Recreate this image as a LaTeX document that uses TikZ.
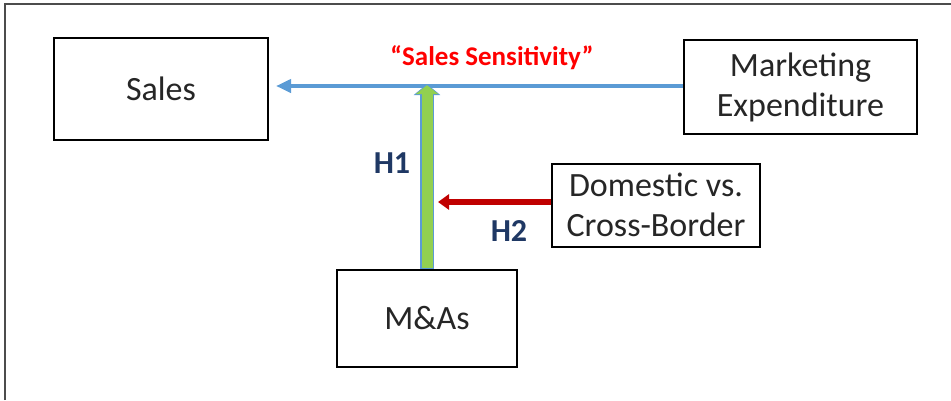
\documentclass[tikz,border=0pt]{standalone}
\usepackage{fontspec}
\setmainfont{Carlito}
\usetikzlibrary{arrows.meta}
\definecolor{boxtext}{RGB}{38,38,38}
\definecolor{linkblue}{RGB}{91,155,213}
\definecolor{leafgreen}{RGB}{146,208,80}
\definecolor{darkred}{RGB}{192,0,0}
\definecolor{navy}{RGB}{31,56,100}
\tikzset{
  box/.style={draw=black, line width=2pt, fill=white, inner sep=0pt,
    align=center, text=boxtext, font=\fontsize{34}{40}\selectfont},
  hlabel/.style={text=navy, font=\fontsize{32}{36}\selectfont\bfseries},
  frameline/.style={draw=black!70, line width=1.3pt}
}
\begin{document}
\begin{tikzpicture}[x=1pt, y=-1pt]
  \useasboundingbox (0,0) rectangle (951,400);
  % outer frame (top and left edges)
  \draw[frameline] (5,400) -- (5,4) -- (951,4);

  % boxes
  \node[box, minimum width=214pt, minimum height=102pt] (sales) at (161,89) {Sales};
  \node[box, minimum width=233pt, minimum height=94pt] (mkt) at (800.5,87) {Marketing\\Expenditure};
  \node[box, minimum width=208pt, minimum height=83pt] (dom) at (656,205) {Domestic vs.\\Cross-Border};
  \node[box, minimum width=180pt, minimum height=97pt] (ma) at (427,318.5) {M\&As};

  % reference heights for the connectors
  \coordinate (sy) at (0,86);
  \coordinate (hy) at (0,202);
  \coordinate (gx) at (438,0);

  % sales sensitivity link
  \draw[linkblue, line width=4pt, -{Triangle[length=15pt, width=13pt]}, shorten >=7pt]
    (mkt.west |- sy) -- (sales.east |- sy);
  \node[text=red, font=\fontsize{27}{30}\selectfont\bfseries] (ss) at (492,58) {“Sales Sensitivity”};

  % H1: M&As moderating arrow (outlined green)
  \draw[linkblue, line width=13.5pt, -{Triangle[length=11pt, width=26pt]}]
    (ma.north) -- ([yshift=2pt]ma.north |- sy);
  \draw[leafgreen, line width=11pt, -{Triangle[length=9pt, width=22.5pt]}, shorten >=1.2pt, shorten <=1pt]
    (ma.north) -- ([yshift=2pt]ma.north |- sy);

  % H2: domestic vs cross-border arrow
  \draw[darkred, line width=6pt, -{Triangle[length=11pt, width=15pt]}]
    (dom.west |- hy) -- (gx |- hy);

  % hypothesis labels
  \node[hlabel] (h1) at (392,163) {H1};
  \node[hlabel] (h2) at (509,231) {H2};
\end{tikzpicture}
\end{document}
